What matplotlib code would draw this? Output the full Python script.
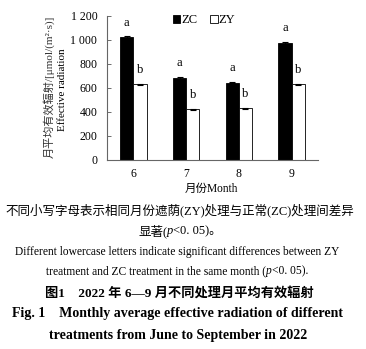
import matplotlib
matplotlib.use("Agg")
import matplotlib.pyplot as plt
from matplotlib.patches import Patch
import numpy as np

months = ["6", "7", "8", "9"]
zc = [1025, 685, 645, 978]
zy = [630, 422, 430, 632]
zc_err = [6, 6, 6, 8]
zy_err = [5, 5, 6, 5]
zc_letters = ["a", "a", "a", "a"]
zy_letters = ["b", "b", "b", "b"]
yticks = [0, 200, 400, 600, 800, 1000, 1200]
ytick_labels = ["0", "200", "400", "600", "800", "1 000", "1 200"]

SERIF = ["Liberation Serif", "Noto Sans CJK SC"]

W, H = 366, 349
fig = plt.figure(figsize=(W / 100, H / 100), dpi=100)
ax = fig.add_axes([107 / W, 1 - 160 / H, (318 - 107) / W, (160 - 16) / H])

x = np.arange(len(months))
w = 0.25
ax.bar(x - w / 2, zc, w, color="black", edgecolor="black", linewidth=0.6,
       yerr=zc_err, error_kw=dict(ecolor="black", capsize=2.5, elinewidth=0.8, capthick=0.8))
ax.bar(x + w / 2, zy, w, color="white", edgecolor="black", linewidth=0.6,
       yerr=zy_err, error_kw=dict(ecolor="black", capsize=2.5, elinewidth=0.8, capthick=0.8))

for i in range(len(months)):
    ax.annotate(zc_letters[i], (x[i] - w / 2, zc[i]), xytext=(0, 6), textcoords="offset points",
                ha="center", va="bottom", fontsize=9, family=SERIF)
    ax.annotate(zy_letters[i], (x[i] + w / 2, zy[i]), xytext=(0, 6), textcoords="offset points",
                ha="center", va="bottom", fontsize=9, family=SERIF)

ax.set_xlim(-0.5, 3.5)
ax.set_ylim(0, 1200)
ax.set_yticks(yticks)
ax.set_yticklabels(ytick_labels, family=SERIF, fontsize=8.5)
ax.set_xticks(x)
ax.set_xticklabels(months, family=SERIF, fontsize=8.5)
ax.tick_params(axis="y", direction="in", length=3, width=0.6, color="#555555", pad=7)
ax.tick_params(axis="x", length=0, pad=6)
for s in ["top", "right"]:
    ax.spines[s].set_visible(False)
for s in ["left", "bottom"]:
    ax.spines[s].set_color("#666666")
    ax.spines[s].set_linewidth(0.8)

handles = [Patch(facecolor="black", edgecolor="black", linewidth=0.6),
           Patch(facecolor="white", edgecolor="black", linewidth=0.6)]
ax.legend(handles, ["ZC", "ZY"], loc="center", bbox_to_anchor=((204 - 107) / (318 - 107), 1 - 4 / 144),
          ncol=2, frameon=False, handlelength=0.6, handleheight=0.6, handletextpad=0.1,
          columnspacing=1.0, prop={"family": SERIF, "size": 9})

fig.text(49 / W, 1 - 87 / H, "月平均有效辐射/[μmol/(m²·s)]", rotation=90, ha="center", va="center",
         family=SERIF, fontsize=8, color="#333333")
fig.text(62.5 / W, 1 - 90 / H, "Effective radiation", rotation=90, ha="center", va="center",
         family=SERIF, fontsize=8)

fig.text(211 / W, 1 - 189 / H, "月份Month", ha="center", va="center", family=SERIF, fontsize=8.3)


def rich_line(pieces, cx, cy, size, weight="normal"):
    """Draw a centred line made of (text, style) pieces."""
    renderer = fig.canvas.get_renderer()
    objs = []
    for txt, style in pieces:
        t = fig.text(0, 0, txt, family=SERIF, fontsize=size, fontstyle=style,
                     fontweight=weight, va="center", ha="left")
        objs.append(t)
    widths = [t.get_window_extent(renderer).width for t in objs]
    total = sum(widths)
    xpix = cx - total / 2
    for t, wd in zip(objs, widths):
        t.set_position((xpix / W, 1 - cy / H))
        xpix += wd


fig.text(180 / W, 1 - 210 / H, "不同小写字母表示相同月份遮荫(ZY)处理与正常(ZC)处理间差异",
         ha="center", va="center", family=SERIF, fontsize=9)
rich_line([("显著(", "normal"), ("p", "italic"), ("<0. 05)。", "normal")], 180, 231, 9)
fig.text(177 / W, 1 - 252 / H,
         "Different lowercase letters indicate significant differences between ZY",
         ha="center", va="center", family=SERIF, fontsize=8.3)
rich_line([("treatment and ZC treatment in the same month (", "normal"), ("p", "italic"),
           ("<0. 05).", "normal")], 177, 271, 8.3)
fig.text(179 / W, 1 - 293 / H, "图1    2022 年 6—9 月不同处理月平均有效辐射", ha="center", va="center",
         family=SERIF, fontsize=9.5, fontweight="bold")
fig.text(178 / W, 1 - 314 / H, "Fig. 1    Monthly average effective radiation of different",
         ha="center", va="center", family=SERIF, fontsize=10, fontweight="bold")
fig.text(178 / W, 1 - 336 / H, "treatments from June to September in 2022",
         ha="center", va="center", family=SERIF, fontsize=10, fontweight="bold")

fig.savefig("out.png", dpi=100)
